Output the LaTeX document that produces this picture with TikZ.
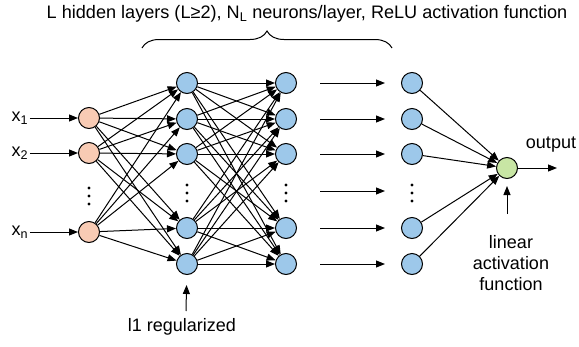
\documentclass[tikz,border=0pt]{standalone}
\usepackage{fontspec}
\setmainfont{Liberation Sans}
\usetikzlibrary{arrows.meta,positioning,decorations.pathreplacing}
\definecolor{inpeach}{HTML}{F8CBB4}
\definecolor{hidblue}{HTML}{9DC8EA}
\definecolor{outgreen}{HTML}{C8E6A4}

\begin{document}
\begin{tikzpicture}[x=1pt, y=-1pt, >={Triangle[length=9pt,width=7pt]}, line width=1pt,
  font=\fontsize{18}{21}\selectfont,
  neuron/.style={circle, draw, line width=1pt, minimum size=21pt, inner sep=0pt},
  vdots/.pic={\foreach \d in {-8,0,8} \fill (0,\d) circle (1.7pt);}]

  \useasboundingbox (0,0) rectangle (579,346);

  % Title and brace
  \node (title) at (307,14) {\fontsize{18.1}{20}\selectfont L hidden layers (L≥2), N\textsubscript{L} neurons/layer, ReLU activation function};
  \coordinate (bl) at (142,48);
  \coordinate (br) at (392,48);
  \draw[decorate, decoration={brace, amplitude=17pt}] (bl) -- (br);

  % Input layer
  \foreach \y/\lab [count=\i] in {118/1, 153/2, 232/n} {
    \node[neuron, fill=inpeach] (in\i) at (89,\y) {};
    \node[inner sep=1pt] (x\i) at (20,\y) {x\textsubscript{\lab}};
    \draw[->] (x\i) -- (in\i);
  }
  \pic at (89,196) {vdots};

  % Hidden layers
  \foreach \y [count=\i] in {83,119,154,228,264} {
    \node[neuron, fill=hidblue] (ha\i) at (187,\y) {};
    \node[neuron, fill=hidblue] (hb\i) at (286,\y) {};
    \node[neuron, fill=hidblue] (hc\i) at (412,\y) {};
  }
  \pic at (187,193) {vdots};
  \pic at (286,193) {vdots};
  \pic at (412,193) {vdots};

  % Output neuron
  \node[neuron, fill=outgreen] (out) at (507,168) {};

  % Connections
  \foreach \i in {1,2,3} {
    \foreach \j in {1,...,5} {
      \draw[->] (in\i) -- (ha\j);
    }
  }
  \foreach \i in {1,...,5} {
    \foreach \j in {1,...,5} {
      \draw[->] (ha\i) -- (hb\j);
    }
    \draw[->] (hc\i) -- (out);
  }

  % More hidden layers
  \foreach \y [count=\i] in {83,119,154,191,228,264} {
    \coordinate (ms\i) at (320,\y);
    \coordinate (me\i) at (385,\y);
    \draw[->] (ms\i) -- (me\i);
  }

  % Output
  \coordinate (oe) at (557,168);
  \draw[->] (out) -- (oe);
  \node (outlab) at (551,145) {output};

  \node[align=center] (lin) at (511,263) {linear\\activation\\function};
  \coordinate (linst) at (507,214);
  \draw[->, shorten >=7pt] (linst) -- (out);

  \node (reg) at (182,327) {l1 regularized};
  \coordinate (regst) at (186,311);
  \draw[->, shorten >=10pt] (regst) -- (ha5);
\end{tikzpicture}
\end{document}
